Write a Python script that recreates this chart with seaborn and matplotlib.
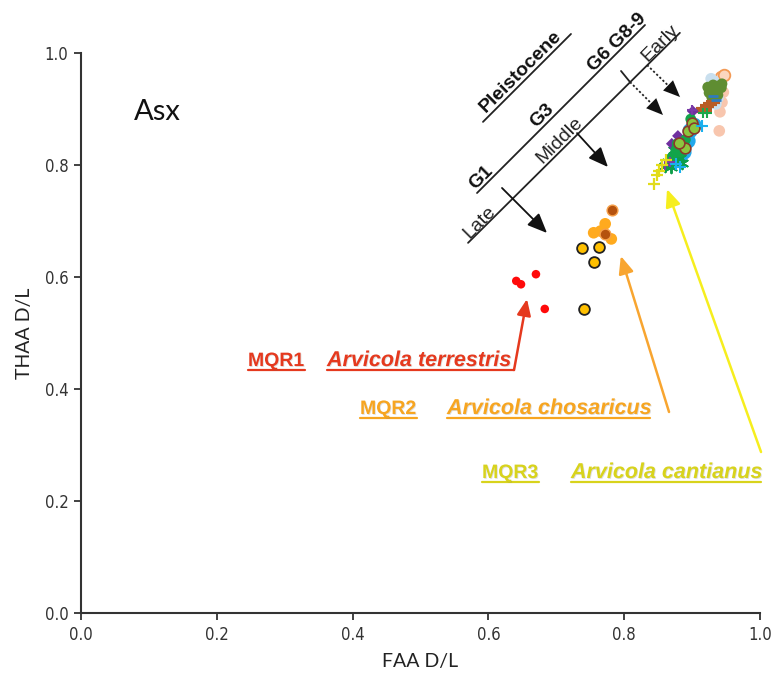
import matplotlib
matplotlib.use("Agg")
import matplotlib.pyplot as plt
import matplotlib.patheffects as pe
from matplotlib import font_manager
import pandas as pd
import seaborn as sns

# ---------------- data: FAA vs THAA D/L (Asx) per sample group ----------------
mqr1_faa = [0.641, 0.648, 0.670, 0.683]
mqr1_thaa = [0.593, 0.587, 0.605, 0.543]

mqr2_ring_faa = [0.738, 0.763, 0.755, 0.741]
mqr2_ring_thaa = [0.652, 0.654, 0.627, 0.543]
mqr2_orange_faa = [0.772, 0.755, 0.765, 0.781]
mqr2_orange_thaa = [0.695, 0.679, 0.682, 0.668]
mqr2_brown_faa = [0.782, 0.772]
mqr2_brown_thaa = [0.720, 0.677]

mqr3_faa = [0.844, 0.848, 0.851, 0.856, 0.862]
mqr3_thaa = [0.766, 0.782, 0.789, 0.800, 0.809]

blue_faa = [0.888, 0.894, 0.897, 0.882, 0.903]
blue_thaa = [0.823, 0.843, 0.861, 0.814, 0.871]
star_faa = [0.860, 0.865, 0.870, 0.875, 0.879, 0.869, 0.876, 0.882, 0.885, 0.873]
star_thaa = [0.798, 0.805, 0.813, 0.818, 0.823, 0.796, 0.807, 0.813, 0.804, 0.827]
green_faa = [0.898, 0.878, 0.870, 0.882, 0.890, 0.876]
green_thaa = [0.882, 0.838, 0.813, 0.823, 0.845, 0.827]
lime_faa = [0.894, 0.900, 0.903, 0.890, 0.881]
lime_thaa = [0.861, 0.875, 0.866, 0.830, 0.839]
diamond_faa = [0.879, 0.870, 0.901, 0.875]
diamond_thaa = [0.852, 0.838, 0.896, 0.830]
purple_plus_faa = [0.860, 0.900, 0.867]
purple_plus_thaa = [0.800, 0.898, 0.805]
cyan_plus_faa = [0.915, 0.882, 0.876]
cyan_plus_thaa = [0.870, 0.796, 0.802]

olive_faa = [0.931, 0.938, 0.943, 0.934, 0.925, 0.929, 0.938, 0.944, 0.923]
olive_thaa = [0.943, 0.941, 0.938, 0.932, 0.929, 0.921, 0.925, 0.945, 0.939]
peach_faa = [0.941, 0.940, 0.946, 0.944]
peach_thaa = [0.895, 0.861, 0.930, 0.912]
peach_ring_faa = [0.943, 0.947]
peach_ring_thaa = [0.957, 0.961]
paleblue_faa = [0.932, 0.938, 0.935, 0.928]
paleblue_thaa = [0.950, 0.920, 0.909, 0.954]
brown_dash_faa = [0.912, 0.916, 0.922, 0.926, 0.931, 0.919]
brown_dash_thaa = [0.896, 0.900, 0.905, 0.909, 0.9125, 0.898]
blue_dash_faa = [0.931, 0.935]
blue_dash_thaa = [0.923, 0.916]
green_plus_faa = [0.922, 0.916]
green_plus_thaa = [0.893, 0.893]

tick_values = [0.0, 0.2, 0.4, 0.6, 0.8, 1.0]
tick_labels = ["0.0", "0.2", "0.4", "0.6", "0.8", "1.0"]

# ---------------- style ----------------
sns.set_style("ticks")
plt.rcParams["font.family"] = ["Liberation Sans", "DejaVu Sans"]

fonts = font_manager.fontManager.ttflist
names = {f.name for f in fonts}
if "Liberation Sans Narrow" in names:
    tick_font = font_manager.FontProperties(family="Liberation Sans Narrow", size=12.5)
elif any(f.name == "DejaVu Sans" and f.stretch == "condensed" for f in fonts):
    tick_font = font_manager.FontProperties(family="DejaVu Sans", stretch="condensed", size=12)
else:
    tick_font = font_manager.FontProperties(family="Liberation Sans", size=11.5)

fig = plt.figure(figsize=(7.73, 6.84), dpi=100)
ax = fig.add_axes([0.1048, 0.1038, 0.8784, 0.8187])

# (x, y, style kwargs) in drawing order, back to front
layers = [
    (peach_faa, peach_thaa, dict(color="#F8C6AE", s=70, edgecolor="none")),
    (peach_ring_faa, peach_ring_thaa, dict(color="#FBD7C0", s=70, edgecolor="#F39A55", linewidth=1.3)),
    (paleblue_faa, paleblue_thaa, dict(color="#C9DFEE", s=70, edgecolor="none")),
    (olive_faa, olive_thaa, dict(color="#5F8D32", s=60, edgecolor="none")),
    (brown_dash_faa, brown_dash_thaa, dict(color="#B85C25", marker="_", s=90, linewidth=3)),
    (blue_dash_faa, blue_dash_thaa, dict(color="#2F7BBF", marker="_", s=50, linewidth=2)),
    (green_plus_faa, green_plus_thaa, dict(color="#1BA84A", marker="+", s=55, linewidth=1.5)),
    (blue_faa, blue_thaa, dict(color="#22A8EC", s=120, edgecolor="none")),
    (star_faa, star_thaa, dict(color="#0E9E4A", marker=(6, 2, 0), s=70, linewidth=1.4)),
    (diamond_faa, diamond_thaa, dict(color="#7030A0", marker="D", s=35, edgecolor="none")),
    (green_faa, green_thaa, dict(color="#12A44A", s=60, edgecolor="none")),
    (lime_faa, lime_thaa, dict(color="#8CC63F", s=60, edgecolor="#8B3A2A", linewidth=1.2)),
    (purple_plus_faa, purple_plus_thaa, dict(color="#7A3AA8", marker="+", s=60, linewidth=1.5)),
    (cyan_plus_faa, cyan_plus_thaa, dict(color="#1AB0EE", marker="+", s=70, linewidth=1.5)),
    (mqr3_faa, mqr3_thaa, dict(color="#E2DC1A", marker="+", s=70, linewidth=1.6)),
    (mqr2_orange_faa, mqr2_orange_thaa, dict(color="#FFAA1E", s=70, edgecolor="none")),
    (mqr2_brown_faa, mqr2_brown_thaa, dict(color="#B5520E", s=60, edgecolor="#F6A04A", linewidth=1.0)),
    (mqr2_ring_faa, mqr2_ring_thaa, dict(color="#FFC000", s=60, edgecolor="#222222", linewidth=1.3)),
    (mqr1_faa, mqr1_thaa, dict(color="#FF0A0A", s=38, edgecolor="none")),
]
for xs, ys, kw in layers:
    df = pd.DataFrame({"FAA": xs, "THAA": ys})
    sns.scatterplot(data=df, x="FAA", y="THAA", ax=ax, legend=False, zorder=3, **kw)

ax.set_xlim(0, 1)
ax.set_ylim(0, 1)
ax.set_xticks(tick_values)
ax.set_yticks(tick_values)
ax.set_xticklabels(tick_labels, fontproperties=tick_font, color="#333333")
ax.set_yticklabels(tick_labels, fontproperties=tick_font, color="#333333")
ax.tick_params(direction="out", length=5, width=1.3, color="#333333", pad=4)
for side in ("left", "bottom"):
    ax.spines[side].set_color("#333333")
    ax.spines[side].set_linewidth(1.5)
sns.despine(ax=ax)

ax.set_xlabel("FAA D/L", family=["Lato", "DejaVu Sans"], fontsize=14, color="#222222")
ax.set_ylabel("THAA D/L", family=["Lato", "DejaVu Sans"], fontsize=14, color="#222222")
ax.xaxis.set_label_coords(0.5, -0.072)
ax.yaxis.set_label_coords(-0.07, 0.5)

ax.text(0.113, 0.895, "Asx", family=["Lato", "DejaVu Sans"], fontsize=21,
        ha="center", va="center", color="#111111")

# ---------------- chronology lines ----------------
line_kw = dict(color="#222222", lw=1.3, clip_on=False, zorder=2)
ax.plot([0.570, 0.882], [0.661, 1.036], **line_kw)        # Late-Middle-Early
ax.plot([0.5832, 0.8306], [0.750, 1.050], **line_kw)      # G1 ... G8-9
ax.plot([0.592, 0.7216], [0.877, 1.034], **line_kw)       # Pleistocene underline

rot = dict(rotation=45, rotation_mode="anchor", ha="center", va="center", clip_on=False)
ax.text(0.6474, 0.9668, "Pleistocene", fontsize=14, fontweight="bold", color="#111111", **rot)
ax.text(0.589, 0.777, "G1", fontsize=14, fontweight="bold", color="#111111", **rot)
ax.text(0.680, 0.8875, "G3", fontsize=14, fontweight="bold", color="#111111", **rot)
ax.text(0.789, 1.018, "G6 G8-9", fontsize=14, fontweight="bold", color="#111111", **rot)
ax.text(0.5876, 0.698, "Late", fontsize=14, color="#222222", **rot)
ax.text(0.7054, 0.8446, "Middle", fontsize=14, color="#222222", **rot)
ax.text(0.8527, 1.018, "Early", fontsize=14, color="#222222", **rot)

head = "-|>,head_length=0.75,head_width=0.32"
ax.annotate("", xy=(0.6863, 0.6786), xytext=(0.620, 0.759),
            arrowprops=dict(arrowstyle=head, color="#111111", lw=1.3, mutation_scale=16,
                            shrinkA=0, shrinkB=0), annotation_clip=False)
ax.annotate("", xy=(0.7761, 0.7964), xytext=(0.7305, 0.857),
            arrowprops=dict(arrowstyle=head, color="#111111", lw=1.3, mutation_scale=16,
                            shrinkA=0, shrinkB=0), annotation_clip=False)
# Early: short tick plus dotted arrows
ax.plot([0.7953, 0.8085], [0.9679, 0.9482], **line_kw)
for (x0, y0), (x1, y1) in [((0.8085, 0.9482), (0.8571, 0.8893)),
                           ((0.8336, 0.9786), (0.8822, 0.9214))]:
    ax.plot([x0, x1 - 0.25 * (x1 - x0)], [y0, y1 - 0.25 * (y1 - y0)],
            color="#222222", lw=1.3, ls=(0, (1.2, 1.2)), clip_on=False, zorder=2)
    ax.annotate("", xy=(x1, y1), xytext=(x1 - 0.3 * (x1 - x0), y1 - 0.3 * (y1 - y0)),
                arrowprops=dict(arrowstyle=head, color="#111111", lw=0.01, mutation_scale=16,
                                shrinkA=0, shrinkB=0), annotation_clip=False)

# ---------------- group labels with pointers ----------------
shadow = [pe.withSimplePatchShadow(offset=(0.6, -0.6), shadow_rgbFace="#666666", alpha=0.22)]
code_lab = dict(fontsize=14, fontweight="bold", ha="left", va="baseline", clip_on=False)
name_lab = dict(fontsize=15.5, fontweight="bold", style="italic", ha="left", va="baseline",
                clip_on=False)

red = "#E5391E"
ax.text(0.2459, 0.441, "MQR1", color=red, path_effects=shadow, **code_lab)
ax.text(0.3623, 0.441, "Arvicola terrestris", color=red, path_effects=shadow, **name_lab)
ax.plot([0.2459, 0.3299], [0.4339, 0.4339], color=red, lw=1.6, clip_on=False)
ax.plot([0.3623, 0.6377], [0.4339, 0.4339], color=red, lw=1.6, clip_on=False)
ax.annotate("", xy=(0.6568, 0.5607), xytext=(0.6377, 0.4339),
            arrowprops=dict(arrowstyle=head, color=red, lw=1.8, mutation_scale=13,
                            shrinkA=0, shrinkB=0))

orange, orange_line = "#F7A520", "#F8A530"
ax.text(0.4109, 0.3554, "MQR2", color=orange, path_effects=shadow, **code_lab)
ax.text(0.539, 0.3554, "Arvicola chosaricus", color=orange, path_effects=shadow, **name_lab)
ax.plot([0.4109, 0.4948], [0.3482, 0.3482], color=orange, lw=1.6, clip_on=False)
ax.plot([0.539, 0.838], [0.3482, 0.3482], color=orange, lw=1.6, clip_on=False)
ax.annotate("", xy=(0.795, 0.6375), xytext=(0.866, 0.359),
            arrowprops=dict(arrowstyle=head, color=orange_line, lw=1.8, mutation_scale=14,
                            shrinkA=0, shrinkB=0))

yellow, yellow_line = "#D8D31C", "#F6EE1E"
ax.text(0.5906, 0.2411, "MQR3", color=yellow, path_effects=shadow, **code_lab)
ax.text(0.7216, 0.2411, "Arvicola cantianus", color=yellow, path_effects=shadow, **name_lab)
ax.plot([0.5906, 0.6745], [0.2339, 0.2339], color=yellow, lw=1.6, clip_on=False)
ax.plot([0.7216, 1.0015], [0.2339, 0.2339], color=yellow, lw=1.6, clip_on=False)
ax.annotate("", xy=(0.863, 0.757), xytext=(1.0015, 0.2875),
            arrowprops=dict(arrowstyle=head, color=yellow_line, lw=1.8, mutation_scale=14,
                            shrinkA=0, shrinkB=0), annotation_clip=False)

fig.savefig("out.png", dpi=100, facecolor="white")
